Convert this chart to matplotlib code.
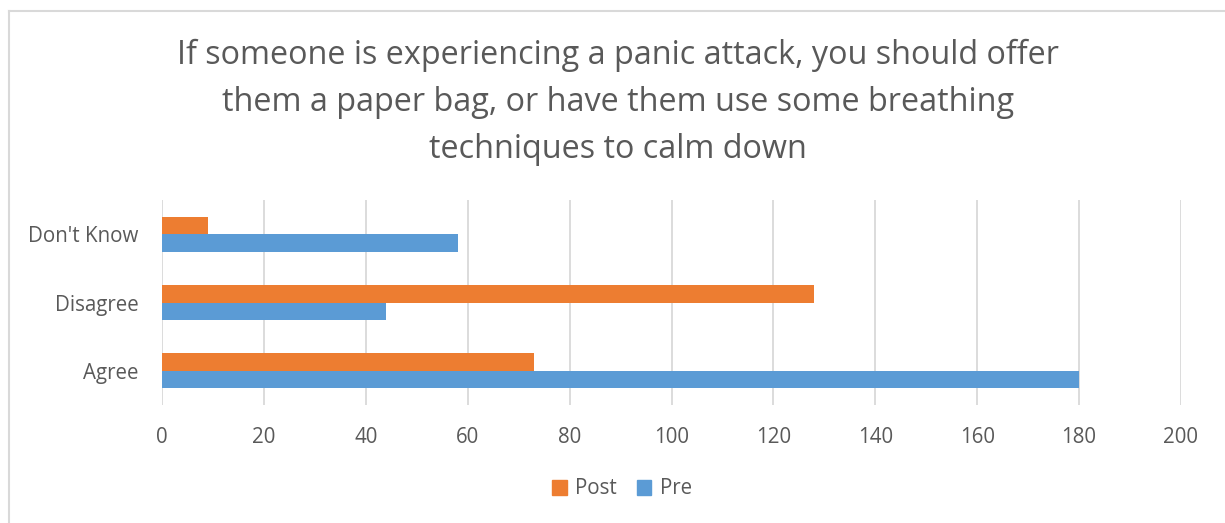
import numpy as np
import matplotlib
matplotlib.use("Agg")
import matplotlib.pyplot as plt
from matplotlib.lines import Line2D
from matplotlib.patches import Patch

# Данные
categories = ["Agree", "Disagree", "Don't Know"]
post_values = [73, 128, 9]
pre_values = [180, 44, 58]
x_ticks = [0, 20, 40, 60, 80, 100, 120, 140, 160, 180, 200]
title = ("If someone is experiencing a panic attack, you should offer\n"
         "them a paper bag, or have them use some breathing\n"
         "techniques to calm down")

orange = "#ED7D31"
blue = "#5B9BD5"
text_color = "#595959"
grid_color = "#D9D9D9"

plt.rcParams["font.family"] = ["Open Sans", "DejaVu Sans"]

W, H = 1225, 523
fig = plt.figure(figsize=(W / 100, H / 100), dpi=100)

# Рамка диаграммы (видны только верхняя и левая стороны)
fig.add_artist(Line2D([9 / W, 1.0], [1 - 11 / H, 1 - 11 / H], color=grid_color, lw=1.5))
fig.add_artist(Line2D([9 / W, 9 / W], [0, 1 - 11 / H], color=grid_color, lw=1.5))

ax = fig.add_axes([162 / W, 1 - 405 / H, 1019 / W, 205 / H])

y = np.arange(len(categories))
h = 0.256
ax.barh(y + h / 2, post_values, height=h, color=orange, label="Post", zorder=3)
ax.barh(y - h / 2, pre_values, height=h, color=blue, label="Pre", zorder=3)

ax.set_xlim(0, 200)
ax.set_ylim(-0.5, 2.5)
ax.set_xticks(x_ticks)
ax.set_yticks(y)
ax.set_yticklabels(categories)
ax.grid(True, axis="x", color=grid_color, linewidth=1.3, zorder=0)
for s in ax.spines.values():
    s.set_visible(False)
ax.tick_params(axis="both", length=0, colors=text_color, labelsize=14.8)
ax.tick_params(axis="x", pad=16)
ax.tick_params(axis="y", pad=17)

fig.text(618 / W, 1 - 102 / H, title, ha="center", va="center",
         fontsize=23.3, color=text_color, linespacing=1.56)

handles = [Patch(color=orange, label="Post"), Patch(color=blue, label="Pre")]
fig.legend(handles=handles, loc="center", bbox_to_anchor=(622 / W, 1 - 489 / H),
           ncol=2, frameon=False, fontsize=14.8, labelcolor=text_color,
           handlelength=0.7, handleheight=0.7, handletextpad=0.4, columnspacing=1.0)

fig.savefig("out.png", dpi=100)
